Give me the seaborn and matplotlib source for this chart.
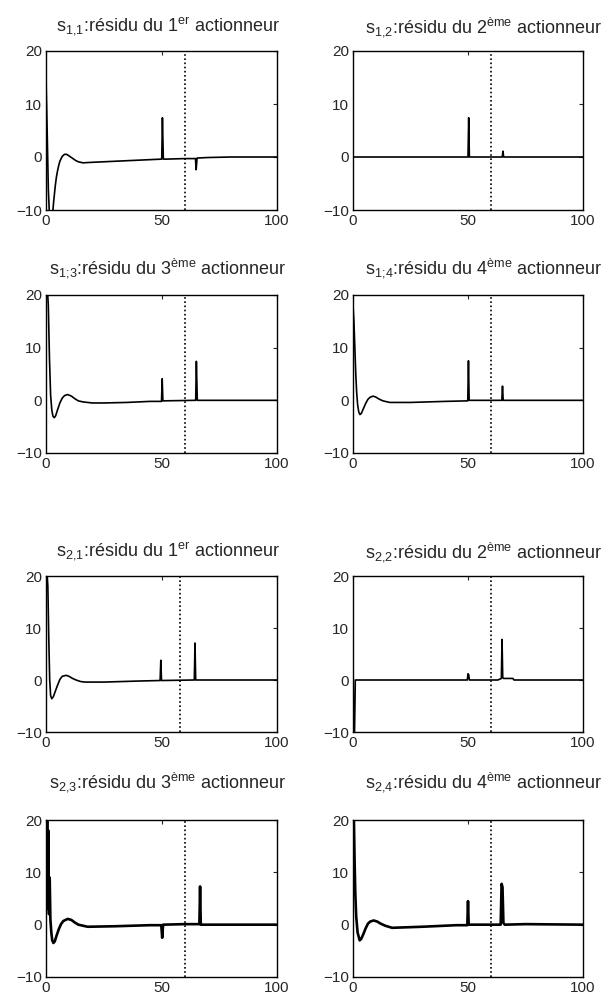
import matplotlib
matplotlib.use("Agg")
import matplotlib.pyplot as plt
import seaborn as sns
import pandas as pd

sns.set_style("white")
plt.rcParams["font.family"] = ["Liberation Sans", "DejaVu Sans"]
plt.rcParams["mathtext.default"] = "regular"

# Residual signals: time breakpoints (s) and residual values
t_s11 = [0, 0.5, 1.0, 1.5, 2.2, 2.8, 3.3, 4, 4.5, 5, 5.5, 6, 7, 8, 9, 10, 11, 12, 13, 14, 16, 20, 30, 40,
         50.1, 50.4, 50.8, 52, 60, 64.7, 65.0, 65.4, 70, 80, 100]
v_s11 = [15, 5, -6, -11, -11.5, -11, -8.5, -5.5, -3.8, -2.6, -1.6, -0.8, 0.1, 0.5, 0.5, 0.2, -0.1, -0.4, -0.7, -0.9, -1.1, -1.0, -0.8, -0.6,
         -0.4, 7.4, -0.4, -0.4, -0.3, -0.3, -2.4, -0.2, -0.1, 0, 0]

t_s12 = [0, 50.0, 50.3, 50.6, 64.9, 65.2, 65.5, 100]
v_s12 = [0, 0, 7.4, 0, 0, 1.1, 0, 0]

t_s13 = [0, 0.5, 1.0, 1.5, 2.0, 2.5, 3.0, 3.6, 4.2, 5, 6, 7, 8, 9.4, 11, 12.5, 14, 16, 20, 25, 35, 45,
         50.0, 50.3, 50.6, 64.8, 65.1, 65.5, 75, 100]
v_s13 = [24, 22, 18, 8, 1, -1.8, -3.0, -3.3, -2.9, -1.8, -0.5, 0.4, 0.9, 1.1, 0.8, 0.3, -0.1, -0.3, -0.5, -0.5, -0.4, -0.2,
         -0.2, 4.1, -0.1, 0, 7.4, 0, 0, 0]

t_s14 = [0, 0.4, 0.8, 1.2, 1.6, 2.0, 2.5, 3.0, 3.6, 4.5, 5.5, 6.5, 7.5, 8.8, 10, 11.5, 13, 16, 25, 40,
         49.9, 50.2, 50.5, 64.7, 65.0, 65.3, 100]
v_s14 = [18, 15, 10, 5, 1.5, -0.8, -2.2, -2.7, -2.5, -1.6, -0.6, 0.2, 0.6, 0.8, 0.6, 0.2, -0.1, -0.4, -0.4, -0.2,
         -0.1, 7.5, 0, 0, 2.7, 0, 0]

t_s21 = [0, 0.4, 0.8, 1.2, 1.6, 2.0, 2.5, 3.2, 4, 5, 6, 7, 8.7, 10, 11.5, 13, 15, 17, 25, 40,
         49.4, 49.7, 50.0, 64.2, 64.5, 64.8, 100]
v_s21 = [24, 21, 18, 8, 0, -3.0, -3.6, -3.2, -2.2, -1.0, 0.1, 0.7, 0.9, 0.7, 0.3, 0, -0.3, -0.4, -0.4, -0.2,
         -0.1, 3.8, -0.1, 0, 7.1, 0, 0]

t_s22 = [0, 0.3, 0.6, 1.0, 49.7, 50.0, 50.3, 50.6, 63, 64.5, 64.8, 65.1, 65.4, 69.5, 70, 100]
v_s22 = [5, -12, -12, 0, 0, 1.2, 1.0, 0, 0, 0.3, 7.8, 0.5, 0.3, 0.3, 0, 0]

t_s23 = [0, 0.25, 0.5, 0.75, 1.0, 1.3, 1.6, 1.9, 2.3, 2.7, 3.2, 3.8, 4.5, 5.5, 6.5, 7.5, 9.4, 11, 12.5, 14, 18, 30, 45,
         49.9, 50.3, 50.7, 60, 66.4, 66.7, 67.0, 100]
v_s23 = [25, 8, 22, 3, 18, 2, 9, 1, -1.5, -3.0, -3.5, -3.2, -2.2, -0.9, 0.1, 0.7, 1.1, 0.9, 0.4, 0.0, -0.4, -0.3, -0.1,
         -0.1, -2.5, 0, 0.1, 0.1, 7.3, 0, 0]

t_s24 = [0, 0.4, 0.7, 1.0, 1.4, 2.0, 2.9, 3.6, 4.5, 5.5, 6.5, 7.5, 9, 10.5, 12, 14, 17, 30, 45,
         49.7, 50.0, 50.3, 64.2, 64.6, 65.0, 65.4, 66, 75, 100]
v_s24 = [24, 20, 12, 6, 1.5, -1.5, -3.0, -2.7, -1.8, -0.7, 0.2, 0.6, 0.8, 0.6, 0.2, -0.2, -0.6, -0.4, -0.1,
         -0.1, 4.5, 0, 0, 7.8, 7.2, 0.3, 0, 0.1, 0]

series = [
    ("1{,}1", "1", "er", t_s11, v_s11, 60),
    ("1{,}2", "2", "ème", t_s12, v_s12, 60),
    (r"1;\!3", "3", "ème", t_s13, v_s13, 60),
    (r"1;\!4", "4", "ème", t_s14, v_s14, 60),
    ("2{,}1", "1", "er", t_s21, v_s21, 58),
    ("2{,}2", "2", "ème", t_s22, v_s22, 60),
    ("2{,}3", "3", "ème", t_s23, v_s23, 60),
    ("2{,}4", "4", "ème", t_s24, v_s24, 60),
]
line_widths = [1.2, 1.2, 1.2, 1.2, 1.2, 1.2, 1.9, 1.9]

x_ticks = [0, 50, 100]
y_ticks = [-10, 0, 10, 20]

W, H = 613, 1007
fig = plt.figure(figsize=(W / 100, H / 100), dpi=100)

col_left = [46, 353]
col_width = [231, 230]
row_top = [51, 295, 576, 820]
row_height = [159, 158, 156, 157]
title_y = [27, 268, 552, 782]
title_dx = [6, 16]

for i, (sub, num, sup, t, v, fault_t) in enumerate(series):
    r, c = divmod(i, 2)
    x0, w = col_left[c], col_width[c]
    y0, h = row_top[r], row_height[r]
    ax = fig.add_axes([x0 / W, 1 - (y0 + h) / H, w / W, h / H])
    df = pd.DataFrame({"t": t, "r": v})
    sns.lineplot(data=df, x="t", y="r", ax=ax, color="black",
                 estimator=None, sort=False, linewidth=line_widths[i])
    ax.axvline(fault_t, color="black", linestyle=(0, (1, 1.5)), linewidth=1.2)
    ax.set_xlim(0, 100)
    ax.set_ylim(-10, 20)
    ax.set_xticks(x_ticks)
    ax.set_yticks(y_ticks)
    ax.set_xlabel("")
    ax.set_ylabel("")
    ax.tick_params(direction="in", top=True, right=True, length=3,
                   width=0.8, labelsize=11, pad=3)
    for s in ax.spines.values():
        s.set_visible(True)
        s.set_color("black")
        s.set_linewidth(1.0)
    title = rf"s$_{{{sub}}}$:résidu du {num}$^{{{sup}}}$ actionneur"
    fig.text((x0 + w / 2 + title_dx[c]) / W, 1 - title_y[r] / H, title,
             ha="center", va="center", fontsize=13)

fig.savefig("out.png", dpi=100, facecolor="white")
